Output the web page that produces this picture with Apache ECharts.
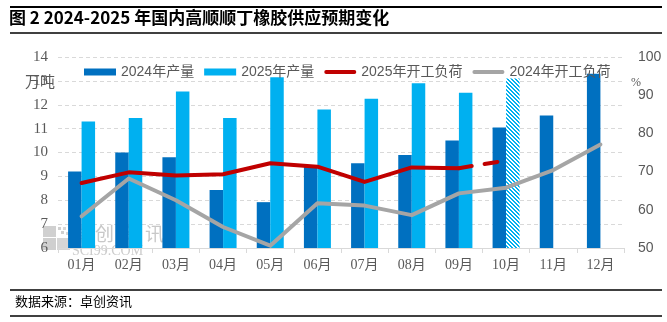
<!DOCTYPE html>
<html>
<head>
<meta charset="utf-8">
<script src="https://cdn.jsdelivr.net/npm/echarts@6/dist/echarts.min.js"></script>
<style>
html,body{margin:0;padding:0;background:#fff;}
#chart{width:667px;height:322px;}
</style>
</head>
<body>
<div id="chart"></div>
<script>
// ---- data ----
var months = ['01月','02月','03月','04月','05月','06月','07月','08月','09月','10月','11月','12月'];
var prod2024 = [9.2, 10.0, 9.8, 8.43, 7.92, 9.4, 9.55, 9.9, 10.5, 11.05, 11.55, 13.3];
var prod2025 = [11.3, 11.45, 12.55, 11.45, 13.15, 11.8, 12.25, 12.9, 12.5, 13.1, null, null];
var load2025 = [67.0, 69.8, 69.0, 69.3, 72.2, 71.3, 67.3, 71.1, 70.9, null, null, null];
var load2025Forecast = [null, null, null, null, null, null, null, null, 70.9, 72.9, null, null];
var load2024 = [58.3, 68.2, 62.5, 55.5, 50.6, 61.7, 61.1, 58.6, 64.3, 65.8, 70.4, 77.1];
var forecastIndex = 9; // 10月 2025 production is a forecast (hatched)

var leftTicks = {min: 6, max: 14, interval: 1};
var rightTicks = {min: 50, max: 100, interval: 10};

// hatched pattern
function makeHatch() {
  var c = document.createElement('canvas');
  c.width = 4; c.height = 4;
  var ctx = c.getContext('2d');
  ctx.fillStyle = '#ffffff';
  ctx.fillRect(0, 0, 4, 4);
  ctx.fillStyle = '#00B0F0';
  for (var i = 0; i < 4; i++) {
    ctx.fillRect(i, i, 1, 1);
    ctx.fillRect((i + 1) % 4, i, 1, 1);
  }
  return c;
}
var hatch = {image: makeHatch(), repeat: 'repeat'};

var prod2025Data = prod2025.map(function (v, i) {
  if (i === forecastIndex) return {value: v, itemStyle: {color: hatch}};
  return v;
});

var chart = echarts.init(document.getElementById('chart'), null, {renderer: 'canvas'});
var gray = '#595959';
var serif = "'Liberation Serif', 'Noto Sans CJK SC', serif";
var sans = "'Liberation Sans', 'Noto Sans CJK SC', sans-serif";

var option = {
  animation: false,
  backgroundColor: '#ffffff',
  grid: {left: 58, right: 43, top: 57, bottom: 74, containLabel: false},
  legend: {
    left: 79, top: 60,
    itemWidth: 32, itemHeight: 7, itemGap: 10,
    textStyle: {fontSize: 14, color: gray, fontFamily: sans},
    data: [
      {name: '2024年产量', icon: 'rect'},
      {name: '2025年产量', icon: 'rect', itemStyle: {color: '#00B0F0'}},
      {name: '2025年开工负荷', icon: 'path://M2,0 L32,0 A2,2 0 0 1 32,4 L2,4 A2,2 0 0 1 2,0 Z', itemStyle: {color: '#C00000'}},
      {name: '2024年开工负荷', icon: 'path://M2,0 L32,0 A2,2 0 0 1 32,4 L2,4 A2,2 0 0 1 2,0 Z', itemStyle: {color: '#A5A5A5'}}
    ]
  },
  xAxis: {
    type: 'category',
    data: months,
    axisLine: {lineStyle: {color: '#d9d9d9', width: 1}},
    axisTick: {show: true, length: 5, lineStyle: {color: '#d9d9d9'}},
    axisLabel: {fontSize: 14, color: gray, fontFamily: serif, margin: 10}
  },
  yAxis: [
    {
      type: 'value', min: leftTicks.min, max: leftTicks.max, interval: leftTicks.interval,
      axisLine: {show: false}, axisTick: {show: false},
      axisLabel: {fontSize: 15, color: gray, fontFamily: serif, margin: 10},
      splitLine: {show: true, lineStyle: {color: '#d9d9d9', type: [4, 3], width: 1}}
    },
    {
      type: 'value', min: rightTicks.min, max: rightTicks.max, interval: rightTicks.interval,
      axisLine: {show: false}, axisTick: {show: false},
      axisLabel: {fontSize: 14, color: gray, fontFamily: sans, margin: 14},
      splitLine: {show: false}
    }
  ],
  series: [
    {
      name: '2024年产量', type: 'bar', yAxisIndex: 0, data: prod2024,
      barWidth: 13.5, barGap: '0%',
      itemStyle: {color: '#0070C0'}
    },
    {
      name: '2025年产量', type: 'bar', yAxisIndex: 0, data: prod2025Data,
      barWidth: 13.5, barGap: '0%',
      itemStyle: {color: '#00B0F0'}
    },
    {
      name: '2025年开工负荷', type: 'line', yAxisIndex: 1, data: load2025,
      showSymbol: false, symbol: 'none', z: 5,
      lineStyle: {color: '#C00000', width: 4, cap: 'round', join: 'round'},
      itemStyle: {color: '#C00000'}
    },
    {
      name: '2025年开工负荷', type: 'line', yAxisIndex: 1, data: load2025Forecast,
      showSymbol: false, symbol: 'none', z: 5,
      lineStyle: {color: '#C00000', width: 4, type: [13, 13], cap: 'round'},
      itemStyle: {color: '#C00000'}
    },
    {
      name: '2024年开工负荷', type: 'line', yAxisIndex: 1, data: load2024,
      showSymbol: false, symbol: 'none', z: 4,
      lineStyle: {color: '#A5A5A5', width: 4, cap: 'round', join: 'round'},
      itemStyle: {color: '#A5A5A5'}
    }
  ],
  graphic: [
    {type: 'line', shape: {x1: 10, y1: 7, x2: 662, y2: 7}, style: {stroke: '#000', lineWidth: 2}, z: 10},
    {type: 'line', shape: {x1: 10, y1: 33, x2: 662, y2: 33}, style: {stroke: '#000', lineWidth: 1.5}, z: 10},
    {type: 'line', shape: {x1: 10, y1: 290, x2: 662, y2: 290}, style: {stroke: '#000', lineWidth: 1.5}, z: 10},
    {type: 'line', shape: {x1: 10, y1: 316, x2: 662, y2: 316}, style: {stroke: '#000', lineWidth: 1.5}, z: 10},
    {type: 'text', left: 9, top: 9, z: 10,
      style: {text: '图 2 2024-2025 年国内高顺顺丁橡胶供应预期变化', font: "bold 17px 'Noto Sans CJK SC', sans-serif", fill: '#000'}},
    {type: 'text', left: 15, top: 295, z: 10,
      style: {text: '数据来源：卓创资讯', font: "13px 'Noto Sans CJK SC', sans-serif", fill: '#000'}},
    {type: 'text', left: 25, top: 74, z: 10,
      style: {text: '万吨', font: "15px 'Noto Sans CJK SC', sans-serif", fill: gray}},
    {type: 'text', left: 631, top: 77, z: 10,
      style: {text: '%', font: "12px 'Liberation Serif', serif", fill: gray}},
    // watermark (behind the bars)
    {type: 'group', z: 0, children: [
      {type: 'rect', shape: {x: 43, y: 238, width: 13, height: 12}, style: {fill: '#cfcfcf'}},
      {type: 'rect', shape: {x: 57, y: 238, width: 13, height: 12}, style: {fill: '#d6d6d6'}},
      {type: 'rect', shape: {x: 43, y: 226, width: 13, height: 11}, style: {fill: '#d0d0d0'}},
      {type: 'rect', shape: {x: 58, y: 227, width: 3, height: 3}, style: {fill: '#d0d0d0'}},
      {type: 'rect', shape: {x: 63, y: 227, width: 3, height: 3}, style: {fill: '#d8d8d8'}},
      {type: 'rect', shape: {x: 61, y: 231, width: 3, height: 3}, style: {fill: '#d0d0d0'}},
      {type: 'rect', shape: {x: 66, y: 232, width: 3, height: 3}, style: {fill: '#d8d8d8'}},
      {type: 'text', x: 73, y: 224, style: {text: '卓', font: "19px 'Noto Sans CJK SC'", fill: '#c8c8c8'}},
      {type: 'text', x: 95, y: 224, style: {text: '创', font: "19px 'Noto Sans CJK SC'", fill: '#c8c8c8'}},
      {type: 'text', x: 120, y: 224, style: {text: '资', font: "19px 'Noto Sans CJK SC'", fill: '#c8c8c8'}},
      {type: 'text', x: 145, y: 224, style: {text: '讯', font: "19px 'Noto Sans CJK SC'", fill: '#c8c8c8'}},
      {type: 'text', x: 72, y: 244, style: {text: 'SCI99.COM', font: "14px 'Liberation Serif', serif", fill: '#cccccc'}}
    ]}
  ]
};
chart.setOption(option);
</script>
</body>
</html>
